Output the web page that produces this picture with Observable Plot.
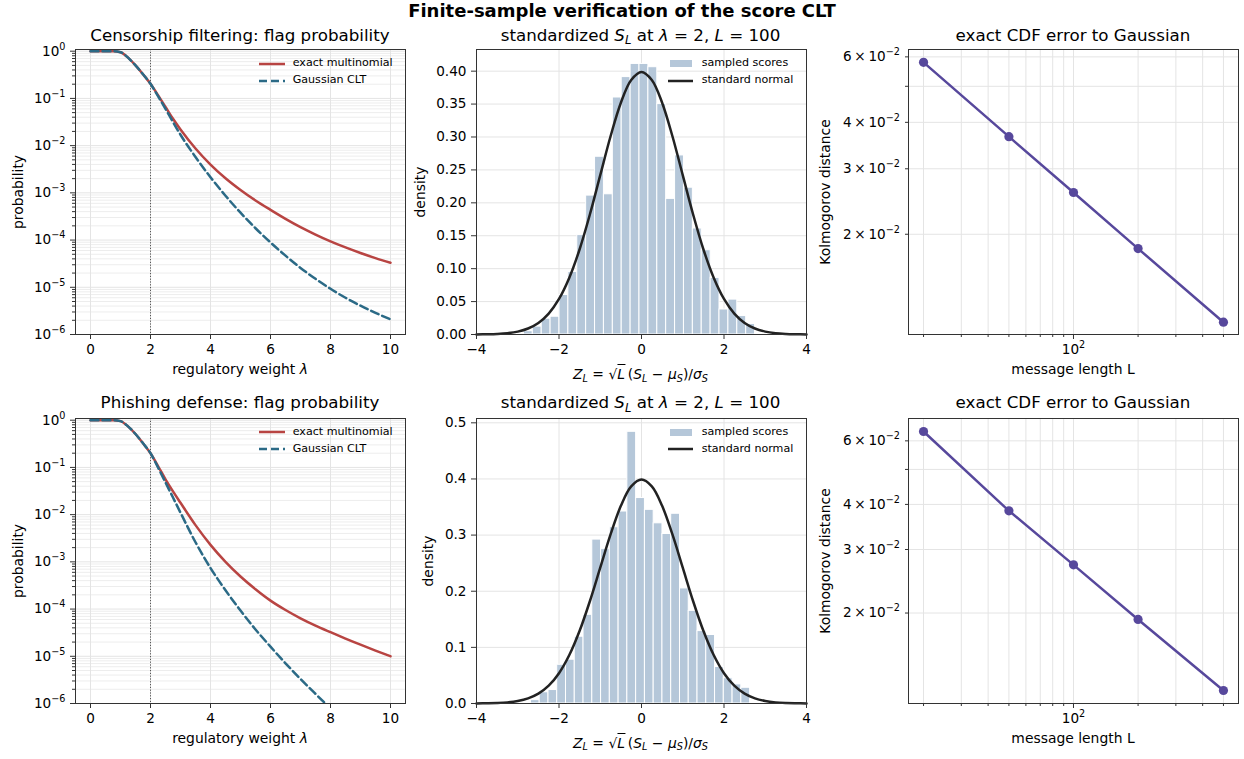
<!DOCTYPE html>
<html><head><meta charset="utf-8">
<script src="https://cdn.jsdelivr.net/npm/d3@7"></script>
<script src="https://cdn.jsdelivr.net/npm/@observablehq/plot@0.6"></script>
<style>
body{margin:0;background:#fff;}
#fig{position:relative;width:1244px;height:759px;font-family:"DejaVu Sans",sans-serif;color:#000;overflow:hidden;background:#fff}
.abs{position:absolute;white-space:nowrap;line-height:1}
.title{font-size:16.7px;transform:translateX(-50%)}
.sup{font-size:18px;font-weight:bold;transform:translateX(-50%)}
.xlab{font-size:13.9px;transform:translateX(-50%)}
.ylab{font-size:13.9px;transform:translate(-50%,-50%) rotate(-90deg)}
.leg{font-size:11.1px}
.sb{font-size:0.7em;position:relative;top:0.28em}
.rad{border-top:1px solid #000;padding-top:1px}
svg.plot{position:absolute}
</style>
</head><body><div id="fig"></div>
<script>
// ---------------- data ----------------
const lambdaGrid   = [0,0.25,0.5,0.75,1,1.25,1.5,1.75,2,2.25,2.5,2.75,3,3.5,4,4.5,5,5.5,6,6.5,7,7.5,8,8.5,9,9.5,10];
const censorExact  = [1,1,1,0.998,0.95,0.73,0.50,0.325,0.204,0.117,0.066,0.037,0.022,8.7e-3,3.98e-3,2.04e-3,1.15e-3,6.9e-4,4.37e-4,2.82e-4,1.88e-4,1.31e-4,9.4e-5,6.98e-5,5.32e-5,4.15e-5,3.31e-5];
const censorGauss  = [1,1,1,0.998,0.95,0.73,0.50,0.325,0.204,0.112,0.060,0.0316,0.0170,5.75e-3,2.14e-3,8.7e-4,3.8e-4,1.78e-4,8.9e-5,4.68e-5,2.57e-5,1.51e-5,9.3e-6,6.0e-6,4.07e-6,2.88e-6,2.09e-6];
const phishExact   = [1,1,1,0.998,0.955,0.74,0.51,0.324,0.200,0.107,0.056,0.031,0.0178,6.0e-3,2.29e-3,1.0e-3,4.9e-4,2.63e-4,1.51e-4,9.55e-5,6.38e-5,4.47e-5,3.24e-5,2.37e-5,1.76e-5,1.32e-5,1.0e-5];
const phishGauss   = [1,1,1,0.998,0.955,0.74,0.51,0.324,0.200,0.100,0.048,0.023,0.011,2.6e-3,7.4e-4,2.5e-4,9.3e-5,3.7e-5,1.6e-5,7.1e-6,3.3e-6,1.6e-6,7.9e-7,4.1e-7,2.2e-7,1.2e-7,6.8e-8];
const markedLambda = 2;
const lambdaTicks  = [0,2,4,6,8,10];
const probDecades  = [1e-6,1e-5,1e-4,1e-3,1e-2,1e-1,1];

const censorHistEdges = [-2.850,-2.635,-2.419,-2.204,-1.988,-1.773,-1.557,-1.342,-1.126,-0.911,-0.695,-0.480,-0.264,-0.049,0.167,0.383,0.598,0.814,1.029,1.245,1.460,1.676,1.891,2.107,2.322,2.538,2.753];
const censorHistDensity = [0.005,0.012,0.024,0.027,0.060,0.095,0.151,0.211,0.270,0.213,0.360,0.391,0.411,0.411,0.406,0.350,0.206,0.272,0.223,0.161,0.128,0.086,0.038,0.053,0.028,0.016];
const phishHistEdges = [-2.680,-2.468,-2.255,-2.043,-1.830,-1.618,-1.405,-1.193,-0.980,-0.768,-0.555,-0.343,-0.130,0.083,0.295,0.508,0.720,0.933,1.145,1.358,1.570,1.783,1.995,2.208,2.420,2.633];
const phishHistDensity = [0.006,0.020,0.024,0.069,0.078,0.119,0.158,0.292,0.275,0.314,0.342,0.484,0.366,0.345,0.321,0.302,0.338,0.205,0.165,0.129,0.122,0.065,0.045,0.034,0.028];
const zGrid     = [-4,-3.75,-3.5,-3.25,-3,-2.75,-2.5,-2.25,-2,-1.75,-1.5,-1.25,-1,-0.75,-0.5,-0.25,0,0.25,0.5,0.75,1,1.25,1.5,1.75,2,2.25,2.5,2.75,3,3.25,3.5,3.75,4];
const normalPdf = [0.0001,0.0004,0.0009,0.0020,0.0044,0.0091,0.0175,0.0317,0.0540,0.0863,0.1295,0.1826,0.2420,0.3011,0.3521,0.3867,0.3989,0.3867,0.3521,0.3011,0.2420,0.1826,0.1295,0.0863,0.0540,0.0317,0.0175,0.0091,0.0044,0.0020,0.0009,0.0004,0.0001];
const zTicks = [-4,-2,0,2,4];
const censorDensityTicks = [0,0.05,0.10,0.15,0.20,0.25,0.30,0.35,0.40];
const phishDensityTicks  = [0,0.1,0.2,0.3,0.4,0.5];

const messageLengths = [20,50,100,200,500];
const censorKS = [0.058,0.0366,0.0259,0.0183,0.0116];
const phishKS  = [0.0637,0.0384,0.0272,0.0192,0.0122];
const lengthMajorTicks = [100];
const lengthMinorTicks = [20,30,40,50,60,70,80,90,200,300,400,500];
const ksLabeledTicks = [0.02,0.03,0.04,0.06];
const ksUnlabeledTicks = [0.05];

// ---------------- styling ----------------
const RED = "#b84442", BLUE = "#2b6a86", PURPLE = "#57489c", BAR = "#b5c7d9", INK = "#222222";
const GRID = "#e4e4e4", GRID2 = "#ededed", SPINE = "#333333";
const ML = 90, MR = 10, MT = 10, MB = 40, FW = 330, FH = 285;
const fig = document.getElementById("fig");

const supMap = {"-":"⁻","0":"⁰","1":"¹","2":"²","3":"³","4":"⁴","5":"⁵","6":"⁶","7":"⁷","8":"⁸","9":"⁹"};
const revMap = {"⁻":"−","⁰":"0","¹":"1","²":"2","³":"3","⁴":"4","⁵":"5","⁶":"6","⁷":"7","⁸":"8","⁹":"9"};
const sup = s => String(s).replace(/[-0-9]/g, c => supMap[c]);
const pow10Label = v => "10" + sup(Math.round(Math.log10(v)));
const sciLabel = v => { const e = Math.floor(Math.log10(v) + 1e-9); const m = Math.round(v / Math.pow(10, e)); return m + "\u2009×\u2009" + "10" + sup(e); };
const minorLog = (lo, hi) => { const out = []; for (let e = lo; e < hi; e++) for (let m = 2; m <= 9; m++) out.push(m * Math.pow(10, e)); return out; };

// turn unicode superscripts of tick labels into raised tspans (mathtext-like exponents)
function raiseExponents(svg) {
  const ns = "http://www.w3.org/2000/svg";
  svg.querySelectorAll("text").forEach(t => {
    const m = t.textContent.match(/^(.*?)([⁻⁰¹²³⁴⁵⁶⁷⁸⁹]+)$/);
    if (!m) return;
    t.textContent = "";
    const a = document.createElementNS(ns, "tspan");
    a.textContent = m[1];
    const b = document.createElementNS(ns, "tspan");
    b.textContent = [...m[2]].map(c => revMap[c]).join("");
    b.setAttribute("dy", "-0.62em");
    b.setAttribute("style", "font-size:71%");
    t.append(a, b);
  });
}

function place(svg, fx, fy) {
  svg.classList.add("plot");
  svg.style.left = (fx - ML) + "px";
  svg.style.top = (fy - MT) + "px";
  raiseExponents(svg);
  fig.appendChild(svg);
}
const base = {
  width: FW + ML + MR, height: FH + MT + MB,
  marginLeft: ML, marginRight: MR, marginTop: MT, marginBottom: MB,
  style: {fontFamily: "DejaVu Sans, sans-serif", fontSize: "13.6px", color: "#000", background: "transparent", overflow: "visible"}
};

function flagPanel(exact, gauss, fx, fy) {
  const rows = lambdaGrid.map((l, i) => ({l, exact: exact[i], gauss: gauss[i]}));
  const minor = minorLog(-6, 0);
  place(Plot.plot({
    ...base,
    x: {domain: [-0.5, 10.5]},
    y: {type: "log", domain: [1e-6, 1.086]},
    marks: [
      Plot.gridY(minor, {stroke: GRID2, strokeOpacity: 1}),
      Plot.gridY(probDecades, {stroke: GRID, strokeOpacity: 1}),
      Plot.gridX(lambdaTicks, {stroke: GRID, strokeOpacity: 1}),
      Plot.ruleX([markedLambda], {stroke: "#555", strokeWidth: 1, strokeDasharray: "1.2,1.6"}),
      Plot.line(rows, {x: "l", y: "exact", stroke: RED, strokeWidth: 2.5, curve: "monotone-x", clip: true}),
      Plot.line(rows, {x: "l", y: "gauss", stroke: BLUE, strokeWidth: 2.5, strokeDasharray: "8,4", curve: "monotone-x", clip: true}),
      Plot.frame({stroke: SPINE}),
      Plot.axisX(lambdaTicks, {tickSize: 5, tickPadding: 5, label: null, stroke: SPINE}),
      Plot.axisY(probDecades, {tickSize: 5, tickPadding: 5, tickFormat: pow10Label, label: null, stroke: SPINE}),
      Plot.axisY(minor, {tickSize: 3, tickFormat: () => "", label: null, stroke: SPINE})
    ]
  }), fx, fy);
}

function histPanel(edges, dens, ymax, yTicks, fmt, fx, fy) {
  const bars = dens.map((d, i) => ({x1: edges[i], x2: edges[i + 1], y: d}));
  const curve = zGrid.map((z, i) => ({z, p: normalPdf[i]}));
  place(Plot.plot({
    ...base,
    x: {domain: [-4, 4]},
    y: {domain: [0, ymax]},
    marks: [
      Plot.gridX(zTicks, {stroke: GRID, strokeOpacity: 1}),
      Plot.gridY(yTicks, {stroke: GRID, strokeOpacity: 1}),
      Plot.rect(bars, {x1: "x1", x2: "x2", y1: 0, y2: "y", fill: BAR, stroke: "white", strokeWidth: 1}),
      Plot.line(curve, {x: "z", y: "p", stroke: INK, strokeWidth: 2.5, curve: "catmull-rom"}),
      Plot.frame({stroke: SPINE}),
      Plot.axisX(zTicks, {tickSize: 5, tickPadding: 5, label: null, stroke: SPINE}),
      Plot.axisY(yTicks, {tickSize: 5, tickPadding: 5, tickFormat: d3.format(fmt), label: null, stroke: SPINE})
    ]
  }), fx, fy);
}

function ksPanel(ks, yDomain, fx, fy) {
  const pts = messageLengths.map((L, i) => ({L, d: ks[i]}));
  place(Plot.plot({
    ...base,
    x: {type: "log", domain: [17.02, 587.6]},
    y: {type: "log", domain: yDomain},
    marks: [
      Plot.gridX(lengthMinorTicks.concat(lengthMajorTicks), {stroke: GRID, strokeOpacity: 1}),
      Plot.gridY(ksLabeledTicks.concat(ksUnlabeledTicks), {stroke: GRID, strokeOpacity: 1}),
      Plot.line(pts, {x: "L", y: "d", stroke: PURPLE, strokeWidth: 2.5}),
      Plot.dot(pts, {x: "L", y: "d", r: 4.6, fill: PURPLE, stroke: "none"}),
      Plot.frame({stroke: SPINE}),
      Plot.axisX(lengthMajorTicks, {tickSize: 5, tickPadding: 5, tickFormat: pow10Label, label: null, stroke: SPINE}),
      Plot.axisX(lengthMinorTicks, {tickSize: 3, tickFormat: () => "", label: null, stroke: SPINE}),
      Plot.axisY(ksLabeledTicks, {tickSize: 3, tickPadding: 5.5, tickFormat: sciLabel, label: null, stroke: SPINE}),
      Plot.axisY(ksUnlabeledTicks, {tickSize: 3, tickFormat: () => "", label: null, stroke: SPINE})
    ]
  }), fx, fy);
}

const TOP = 49, BOT = 418;
const XA = 75, XB = 475.5, XC = 908;

flagPanel(censorExact, censorGauss, XA, TOP);
histPanel(censorHistEdges, censorHistDensity, 0.4329, censorDensityTicks, ".2f", XB, TOP);
ksPanel(censorKS, [0.01075, 0.0628], XC, TOP);
flagPanel(phishExact, phishGauss, XA, BOT);
histPanel(phishHistEdges, phishHistDensity, 0.5077, phishDensityTicks, ".1f", XB, BOT);
ksPanel(phishKS, [0.01123, 0.0692], XC, BOT);

// ---------------- text ----------------
function txt(cls, html, left, top) {
  const d = document.createElement("div");
  d.className = "abs " + cls;
  d.innerHTML = html;
  d.style.left = left + "px";
  d.style.top = top + "px";
  fig.appendChild(d);
  return d;
}
const histTitle = 'standardized <i>S</i><span class="sb"><i>L</i></span> at <i>λ</i> = 2, <i>L</i> = 100';
const zLabel = '<i>Z</i><span class="sb"><i>L</i></span> = √<span class="rad"><i>L</i></span>\u2009(<i>S</i><span class="sb"><i>L</i></span> − <i>μ</i><span class="sb"><i>S</i></span>)/<i>σ</i><span class="sb"><i>S</i></span>';

txt("sup", "Finite-sample verification of the score CLT", 622, 2);
txt("title", "Censorship filtering: flag probability", 240, 26.6);
txt("title", histTitle, 640.5, 26.6);
txt("title", "exact CDF error to Gaussian", 1073, 26.6);
txt("title", "Phishing defense: flag probability", 240, 394.4);
txt("title", histTitle, 640.5, 394.4);
txt("title", "exact CDF error to Gaussian", 1073, 394.4);

txt("xlab", "regulatory weight <i>λ</i>", 240, 363);
txt("xlab", zLabel, 640.5, 368);
txt("xlab", "message length L", 1073, 363);
txt("xlab", "regulatory weight <i>λ</i>", 240, 731.5);
txt("xlab", zLabel, 640.5, 736.5);
txt("xlab", "message length L", 1073, 732);

txt("ylab", "probability", 19, 191.5);
txt("ylab", "density", 421, 191.5);
txt("ylab", "Kolmogorov distance", 826, 191.5);
txt("ylab", "probability", 19, 560.5);
txt("ylab", "density", 429, 560.5);
txt("ylab", "Kolmogorov distance", 826, 560.5);

// legends
function legendLine(x1, x2, y, color, dash, label, tx) {
  const s = document.createElementNS("http://www.w3.org/2000/svg", "svg");
  s.setAttribute("width", x2 - x1 + 4); s.setAttribute("height", 8);
  s.style.position = "absolute"; s.style.left = (x1 - 2) + "px"; s.style.top = (y - 4) + "px";
  s.innerHTML = `<line x1="2" x2="${x2 - x1 + 2}" y1="4" y2="4" stroke="${color}" stroke-width="2.5" ${dash ? `stroke-dasharray="${dash}"` : ""}/>`;
  fig.appendChild(s);
  txt("leg", label, tx, y - 6.5);
}
function legendPatch(x1, x2, y, color, label, tx) {
  const d = document.createElement("div");
  d.style.cssText = `position:absolute;left:${x1}px;top:${y - 3.5}px;width:${x2 - x1}px;height:7px;background:${color}`;
  fig.appendChild(d);
  txt("leg", label, tx, y - 6.5);
}
for (const y0 of [63.7, 432]) {
  legendLine(259, 285, y0, RED, null, "exact multinomial", 292.7);
  legendLine(259, 285, y0 + 17, BLUE, "8,4", "Gaussian CLT", 292.7);
  legendPatch(670, 692, y0, BAR, "sampled scores", 701.7);
  legendLine(668, 693, y0 + 17, INK, null, "standard normal", 701.7);
}
</script></body></html>
